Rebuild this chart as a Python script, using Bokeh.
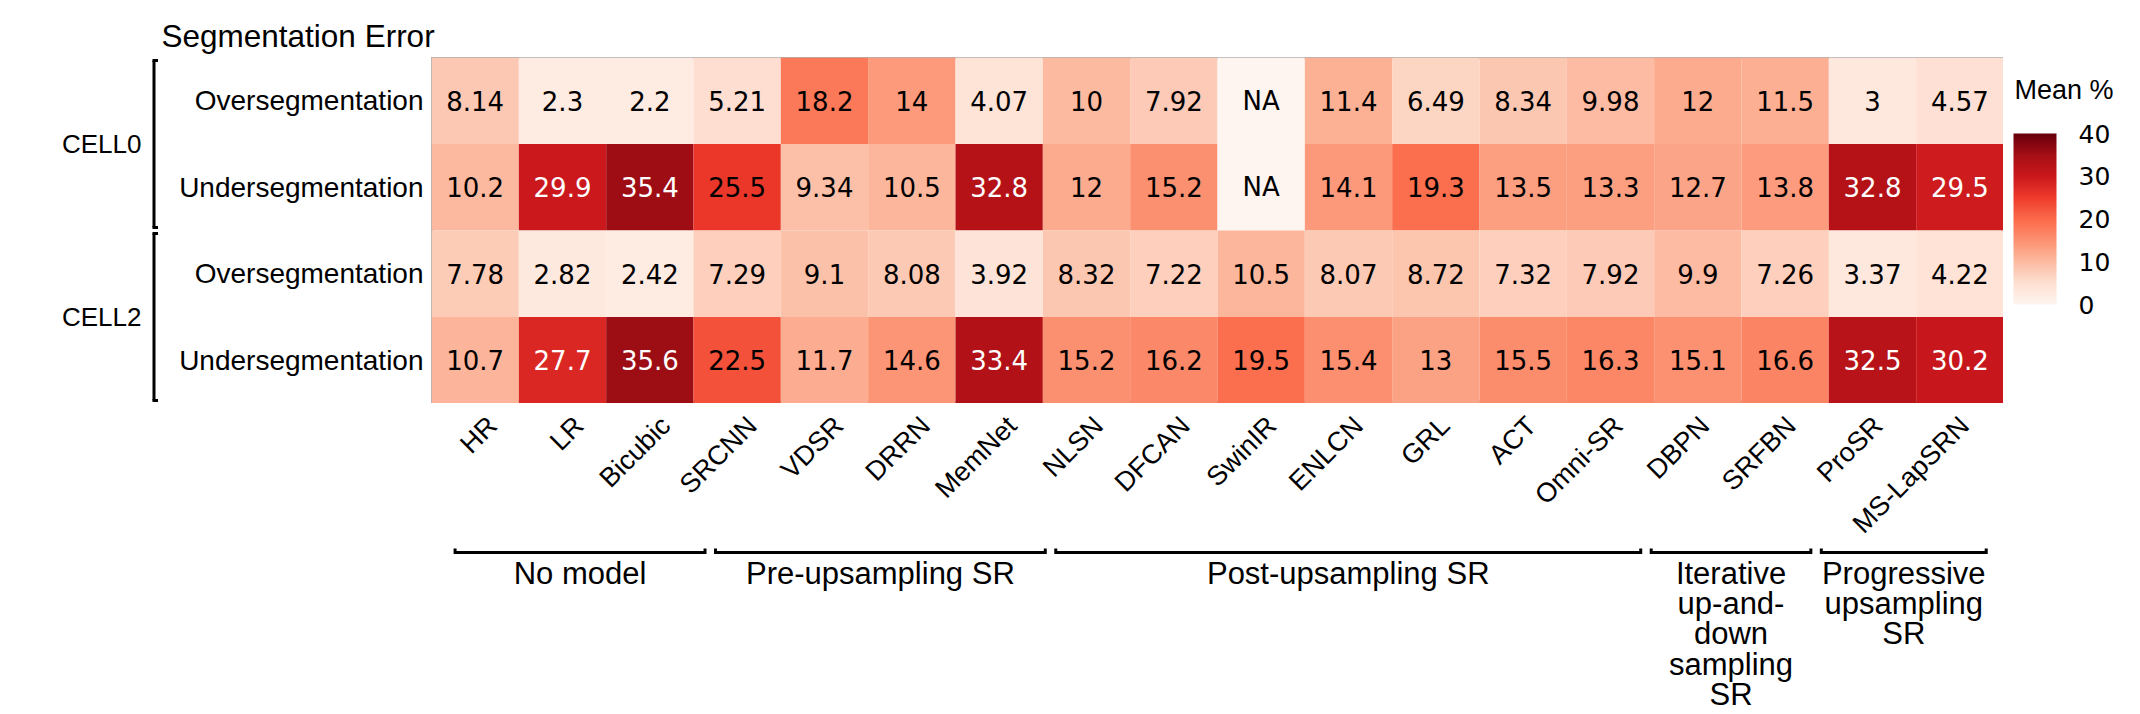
import math
from bokeh.plotting import figure
from bokeh.layouts import column, row
from bokeh.models import (ColumnDataSource, FactorRange, Range1d, LinearColorMapper, ColorBar,
                          FixedTicker, Spacer)
from bokeh.palettes import Reds9, interp_palette
from bokeh.embed import file_html
from bokeh.resources import INLINE
from bokeh.core.properties import value

# ---------------- data ----------------
methods = ["HR", "LR", "Bicubic", "SRCNN", "VDSR", "DRRN", "MemNet", "NLSN", "DFCAN",
           "SwinIR", "ENLCN", "GRL", "ACT", "Omni-SR", "DBPN", "SRFBN", "ProSR", "MS-LapSRN"]
cells = ["CELL0", "CELL2"]
error_types = ["Oversegmentation", "Undersegmentation"]
NA = float("nan")
cell0_over = [8.14, 2.3, 2.2, 5.21, 18.2, 14, 4.07, 10, 7.92, NA, 11.4, 6.49, 8.34, 9.98, 12, 11.5, 3, 4.57]
cell0_under = [10.2, 29.9, 35.4, 25.5, 9.34, 10.5, 32.8, 12, 15.2, NA, 14.1, 19.3, 13.5, 13.3, 12.7, 13.8, 32.8, 29.5]
cell2_over = [7.78, 2.82, 2.42, 7.29, 9.1, 8.08, 3.92, 8.32, 7.22, 10.5, 8.07, 8.72, 7.32, 7.92, 9.9, 7.26, 3.37, 4.22]
cell2_under = [10.7, 27.7, 35.6, 22.5, 11.7, 14.6, 33.4, 15.2, 16.2, 19.5, 15.4, 13, 15.5, 16.3, 15.1, 16.6, 32.5, 30.2]
group_names = ["No model", "Pre-upsampling SR", "Post-upsampling SR",
               "Iterative\nup-and-\ndown\nsampling\nSR", "Progressive\nupsampling\nSR"]
group_sizes = [3, 4, 7, 2, 2]
cbar_ticks = [0, 10, 20, 30, 40]
title_text = "Segmentation Error"
cbar_title = "Mean %"

series = {
    ("CELL0", "Oversegmentation"): cell0_over,
    ("CELL0", "Undersegmentation"): cell0_under,
    ("CELL2", "Oversegmentation"): cell2_over,
    ("CELL2", "Undersegmentation"): cell2_under,
}
row_factors = [(c, e) for c in cells for e in error_types]  # top -> bottom

# ---------------- layout (canvas px) ----------------
W, H = 2140, 714
CL, CM = 431, 1572          # left strip, heatmap width
CR = W - CL - CM            # right strip (colour bar)
RT, RM = 57, 346            # header height, heatmap height
RB = H - RT - RM            # bottom strip
LABEL_FONT = "Liberation Sans"
NUM_FONT = "DejaVu Sans"
ROW_H = RM / len(row_factors)
CELL_W = CM / len(methods)


def strip(width, height, x_range, y_range):
    f = figure(x_range=x_range, y_range=y_range,
               x_axis_location=None, y_axis_location=None,
               frame_width=width, frame_height=height, min_border=0,
               output_backend="svg", toolbar_location=None, tools="")
    f.background_fill_color = "white"
    f.border_fill_color = "white"
    f.outline_line_color = None
    f.grid.visible = False
    return f


# ---------------- heatmap ----------------
xs, ys, vals, labels, tcolors = [], [], [], [], []
for r in row_factors:
    for m, v in zip(methods, series[r]):
        xs.append(m)
        ys.append(r)
        vals.append(v)
        labels.append("NA" if v != v else f"{v:.3g}")
        tcolors.append("white" if (v == v and v > 26) else "black")
src = ColumnDataSource(dict(x=xs, y=ys, val=vals, label=labels, tcolor=tcolors))

palette = interp_palette(list(reversed(Reds9)), 256)
mapper = LinearColorMapper(palette=palette, low=cbar_ticks[0], high=cbar_ticks[-1],
                           nan_color=palette[0])

x_range = FactorRange(factors=methods, range_padding=0)
y_range = FactorRange(factors=list(reversed(row_factors)), range_padding=0,
                      group_padding=0, subgroup_padding=0, factor_padding=0)

pm = strip(CM, RM, x_range, y_range)
pm.outline_line_color = "#b0b0b0"
pm.outline_line_width = 4
pm.rect(x="x", y="y", width=1, height=1, source=src,
        fill_color={"field": "val", "transform": mapper}, line_color=None)
pm.text(x="x", y="y", text="label", source=src, text_color="tcolor",
        text_align="center", text_baseline="middle",
        text_font=value(NUM_FONT), text_font_size="26px")

# ---------------- left strip: row labels, CELL groups, brackets ----------------
pl = strip(CL, RM, Range1d(0, CL), y_range)
pl.text(x=CL - 8, y=row_factors, text=[e for _, e in row_factors],
        text_align="right", text_baseline="middle",
        text_font=value(LABEL_FONT), text_font_size="28px", text_color="black")
n_err = len(error_types)
inset = 3 / ROW_H
g_y0, g_y1, g_mid = [], [], []
for gi, c in enumerate(cells):
    top = len(row_factors) - gi * n_err
    bot = top - n_err
    g_y0.append(top - inset)
    g_y1.append(bot + inset)
    g_mid.append((top + bot) / 2)
BX, TICK = 153.5, 4
pl.segment(x0=BX, y0=g_y0, x1=BX, y1=g_y1, line_color="black", line_width=3)
pl.segment(x0=BX - 1.5, y0=g_y0, x1=BX + TICK, y1=g_y0, line_color="black", line_width=3)
pl.segment(x0=BX - 1.5, y0=g_y1, x1=BX + TICK, y1=g_y1, line_color="black", line_width=3)
pl.text(x=141, y=g_mid, text=cells, text_align="right", text_baseline="middle",
        text_font=value(LABEL_FONT), text_font_size="26px", text_color="black")

# ---------------- right strip: colour bar ----------------
pr = strip(CR, RM, Range1d(0, CR), Range1d(RM, 0))
cb = ColorBar(color_mapper=mapper, ticker=FixedTicker(ticks=cbar_ticks),
              width=43, height=171, location=(10, 99),
              padding=0, margin=0, title=None,
              major_label_text_font=NUM_FONT, major_label_text_font_size="25px",
              major_label_text_color="black", label_standoff=22,
              major_tick_line_color=None, minor_tick_line_color=None,
              bar_line_color=None, border_line_color=None, background_fill_color=None)
pr.add_layout(cb, "center")
pr.text(x=11, y=32, text=[cbar_title], text_align="left", text_baseline="middle",
        text_font=value(LABEL_FONT), text_font_size="27px", text_color="black")

# ---------------- header: title ----------------
pt = strip(W, RT, Range1d(0, W), Range1d(RT, 0))
pt.text(x=161, y=35, text=[title_text], text_align="left", text_baseline="middle",
        text_font=value(LABEL_FONT), text_font_size="31.5px", text_color="black")

# ---------------- bottom strip: tick labels, brackets, group names ----------------
pb = strip(CM, RB, x_range, Range1d(RB, 0))
# rotated labels drift slightly left along the axis, as in the original overlay
lab_off = [7 - 0.0085 * CELL_W * (i + 0.5) for i in range(len(methods))]
tick_src = ColumnDataSource(dict(x=methods, text=methods, off=lab_off))
pb.text(x="x", y=7, x_offset="off", text="text", source=tick_src, angle=math.pi / 4,
        text_align="right", text_baseline="top",
        text_font=value(LABEL_FONT), text_font_size="27px", text_color="black")

n_cols = len(methods)
bx0, bx1 = [], []
start = 0
for gsize in group_sizes:
    end = start + gsize
    bx0.append(0.27 + 0.974 * start + (0.06 if start > 0 else 0))
    bx1.append(0.27 + 0.974 * end - (0.06 if end < n_cols else 0))
    start = end
bmid = [(a + b) / 2 for a, b in zip(bx0, bx1)]
BY = 149
pb.segment(x0=bx0, y0=BY, x1=bx1, y1=BY, line_color="black", line_width=3)
pb.segment(x0=bx0, y0=BY + 1.5, x1=bx0, y1=BY - 4, line_color="black", line_width=3)
pb.segment(x0=bx1, y0=BY + 1.5, x1=bx1, y1=BY - 4, line_color="black", line_width=3)
pb.text(x=bmid, y=152, text=group_names, text_align="center", text_baseline="top",
        text_font=value(LABEL_FONT), text_font_size="31px", text_color="black",
        text_line_height=0.87)

layout = column(pt,
                row(pl, pm, pr, spacing=0),
                row(Spacer(width=CL, height=RB), pb, Spacer(width=CR, height=RB), spacing=0),
                spacing=0)
open("out.html", "w").write(file_html(layout, INLINE))
